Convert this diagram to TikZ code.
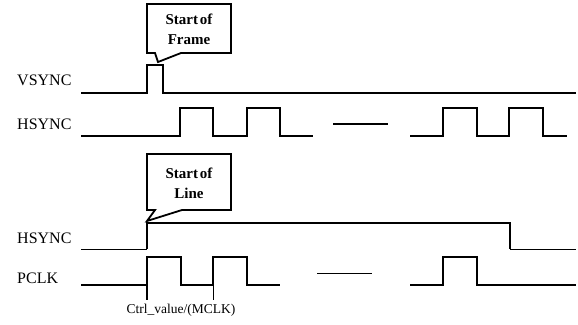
\documentclass[tikz,border=0pt]{standalone}
\usepackage{fontspec}
\setmainfont{Liberation Serif}
\begin{document}
\begin{tikzpicture}[x=1pt,y=-1pt,
  lbl/.style={anchor=west,inner sep=0pt,font=\fontsize{16}{17}\selectfont},
  calltext/.style={align=center,inner sep=0pt,font=\fontsize{15}{20}\selectfont\bfseries},
  small/.style={inner sep=0pt,font=\fontsize{13.5}{14}\selectfont},
  sig/.style={line width=1.8pt,line join=miter},
  thinsig/.style={line width=1pt},
  callout/.style={line width=1.8pt,line join=miter}]
\useasboundingbox (0,0) rectangle (578,324);

% labels
\node[lbl] (lvs) at (17,80) {VSYNC};
\node[lbl] (lhs1) at (17,124) {HSYNC};
\node[lbl] (lhs2) at (17,238) {HSYNC};
\node[lbl] (lpc) at (17,278) {PCLK};

% callouts
\draw[callout] (147,4) -- (231,4) -- (231,53) -- (181,53) -- (158,62) -- (155,53) -- (147,53) -- cycle;
\node[calltext] (sof) at (189,29) {Start\kern2pt of\\Frame};
\draw[callout] (147,154) -- (231,154) -- (231,210) -- (182,210) -- (147,221) -- (155,210) -- (147,210) -- cycle;
\node[calltext] (sol) at (189,183) {Start\kern2pt of\\Line};

% VSYNC
\draw[sig] (81,93) -- (147,93) -- (147,65) -- (163,65) -- (163,93) -- (576,93);

% HSYNC (top)
\draw[sig] (81,136) -- (180,136) -- (180,108) -- (213,108) -- (213,136) -- (247,136) -- (247,108) -- (280,108) -- (280,136) -- (313,136);
\draw[sig] (333,124) -- (388,124);
\draw[sig] (410,136) -- (443,136) -- (443,108) -- (477,108) -- (477,136) -- (509,136) -- (509,108) -- (543,108) -- (543,136) -- (567,136);

% HSYNC (bottom)
\draw[thinsig] (81,249) -- (147,249);
\draw[sig] (147,249) -- (147,223) -- (510,223) -- (510,249);
\draw[thinsig] (510,249) -- (576,249);

% PCLK
\draw[sig] (81,285) -- (147,285) -- (147,257) -- (181,257) -- (181,285) -- (213,285) -- (213,257) -- (247,257) -- (247,285) -- (280,285);
\draw[sig] (147,285) -- (147,300);
\draw[thinsig] (213,285) -- (213,300);
\draw[thinsig] (317,273) -- (372,273);
\draw[sig] (410,285) -- (443,285) -- (443,257) -- (477,257) -- (477,285) -- (576,285);

\node[small] (ctrl) at (181,310) {Ctrl\_value/(MCLK)};
\end{tikzpicture}
\end{document}
